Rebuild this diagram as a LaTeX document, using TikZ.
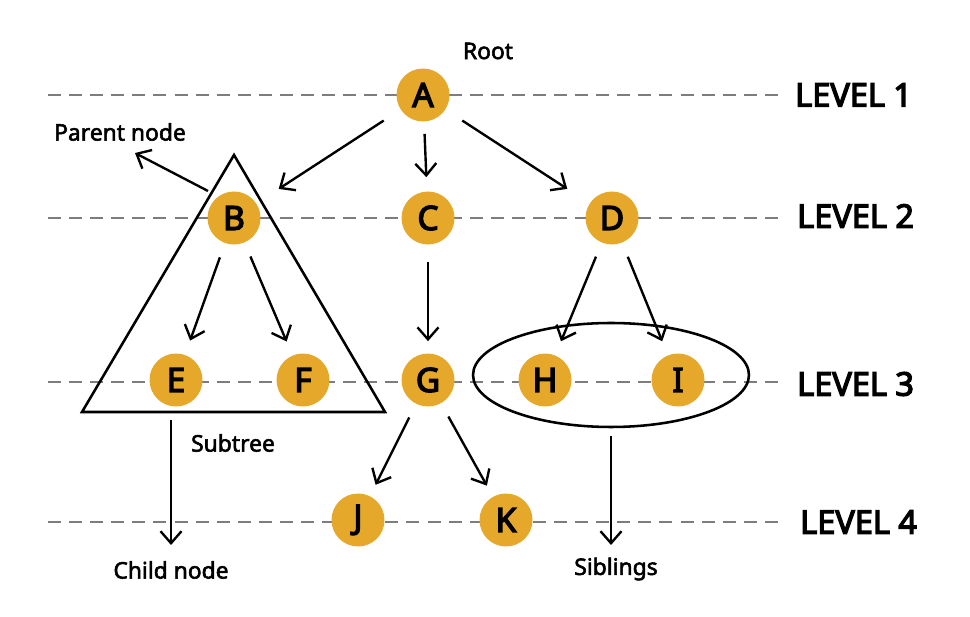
\documentclass[tikz,border=0pt]{standalone}
\usepackage{fontspec}
\setmainfont{Noto Sans}
\newfontfamily\heavyfont{Noto Sans}[FakeBold=4]
\newfontfamily\semifont{Noto Sans}[FakeBold=2.4]
\definecolor{treeGold}{RGB}{229,168,42}
\definecolor{treeGrey}{RGB}{125,125,125}
\usepackage{tikz}
\usetikzlibrary{arrows.meta,shapes.geometric}

\begin{document}
\begin{tikzpicture}[x=0.02cm, y=-0.02cm,
    vert/.style={circle, fill=treeGold, minimum size=1.06cm, inner sep=0pt,
                 font=\heavyfont\fontsize{19}{22}\selectfont},
    lvl/.style={treeGrey, line width=1.2pt, dash pattern=on 7.4pt off 4.6pt},
    lvlname/.style={anchor=west, font=\heavyfont\fontsize{18.5}{22}\selectfont},
    tag/.style={font=\semifont\fontsize{13}{16}\selectfont},
    link/.style={-{Straight Barb[length=2.4mm,width=4.2mm]}, line width=1.35pt,
                 shorten <=0.3cm, shorten >=0.3cm}
  ]
  \useasboundingbox (0,0) rectangle (970,617);

  % levels
  \draw[lvl] (48, 95)  -- (783, 95);
  \draw[lvl] (48,218)  -- (783,218);
  \draw[lvl] (48,382)  -- (783,382);
  \draw[lvl] (48,522)  -- (783,522);
  \node[lvlname] (l1) at (789, 95)  {LEVEL 1};
  \node[lvlname] (l2) at (791,216)  {LEVEL 2};
  \node[lvlname] (l3) at (791,384)  {LEVEL 3};
  \node[lvlname] (l4) at (794,522)  {LEVEL 4};

  \node[vert] (A) at (423, 95) {A};
  \node[vert] (B) at (234,218) {B};
  \node[vert] (C) at (428,218) {C};
  \node[vert] (D) at (612,218) {D};
  \node[vert] (E) at (176,380) {E};
  \node[vert] (F) at (303,380) {F};
  \node[vert] (G) at (428,380) {G};
  \node[vert] (H) at (545,380) {H};
  \node[vert] (I) at (678,380) {I};
  \node[vert] (J) at (358,520) {J};
  \node[vert] (K) at (506,520) {K};

  \draw[link, shorten <=0.4cm, shorten >=0.53cm] (A) -- (B);
  \draw[link, shorten <=0.24cm, shorten >=0.28cm] (A) -- (C);
  \draw[link, shorten <=0.4cm, shorten >=0.53cm] (A) -- (D);
  \draw[link] (B) -- (E);
  \draw[link] (B) -- (F);
  \draw[link, shorten <=0.35cm, shorten >=0.24cm] (C) -- (G);
  \draw[link] (D) -- (H);
  \draw[link] (D) -- (I);
  \draw[link, shorten >=0.25cm] (G) -- (J);
  \draw[link, shorten >=0.25cm] (G) -- (K);

  % subtree
  \draw[line width=1.45pt] (234,155) -- (385,412) -- (82,412) -- cycle;
  \node[ellipse, draw, line width=1.45pt, minimum width=5.52cm,
        minimum height=2.08cm, inner sep=0pt] (sib) at (611,375) {};

  \node[tag] (root)   at (488, 51) {Root};
  \node[tag] (parent) at (120,132) {Parent node};
  \node[tag] (sub)    at (233,443) {Subtree};
  \node[tag] (child)  at (171,570) {Child node};
  \node[tag] (siblings) at (616,569) {Siblings};

  \coordinate (pfoot) at (208,191);
  \coordinate (ptip)  at (135,153);
  \coordinate (ctop)  at (171,420);
  \coordinate (cend)  at (171,545);
  \coordinate (send)  at (611,545);
  \draw[link, shorten <=0pt, shorten >=0pt] (pfoot) -- (ptip);
  \draw[link, shorten <=0pt, shorten >=0pt] (ctop) -- (cend);
  \draw[link, shorten <=0.16cm, shorten >=0pt] (sib.south) -- (send);
\end{tikzpicture}
\end{document}
